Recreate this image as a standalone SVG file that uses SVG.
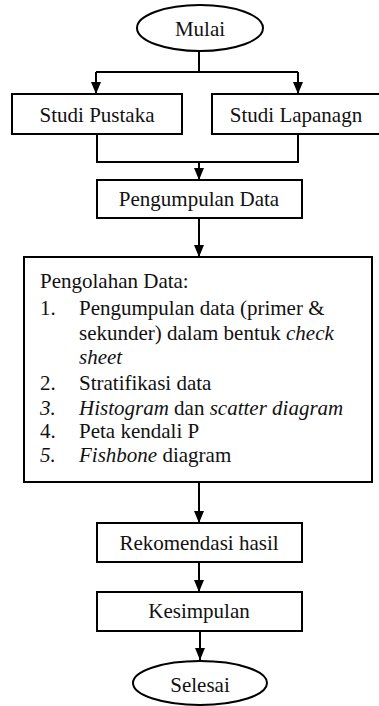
<svg xmlns="http://www.w3.org/2000/svg" width="379" height="706" viewBox="0 0 379 706">
  <defs>
    <marker id="arrow" viewBox="0 0 12 10" refX="12" refY="5" markerWidth="12" markerHeight="10" markerUnits="userSpaceOnUse" orient="auto">
      <path d="M0,0 L12,5 L0,10 Z" fill="#000"/>
    </marker>
  </defs>
  <style>
    .shape { fill: #fff; stroke: #000; stroke-width: 2; }
    .line { fill: none; stroke: #000; stroke-width: 2; }
    .arr { fill: none; stroke: #000; stroke-width: 2; marker-end: url(#arrow); }
    text { font-family: "Liberation Serif", "Times New Roman", serif; font-size: 21px; fill: #111; }
    .c { text-anchor: middle; }
    .i { font-style: italic; }
  </style>
  <rect width="379" height="706" fill="#fff"/>

  <!-- connectors -->
  <g id="connectors">
    <path class="line" d="M199,51 V72 M96,72 H298"/>
    <path class="arr" d="M96,72 V94"/>
    <path class="arr" d="M298,72 V94"/>
    <path class="line" d="M97,135 V162 H298 V135"/>
    <path class="arr" d="M199,162 V180"/>
    <path class="arr" d="M199,218 V257"/>
    <path class="arr" d="M199,482 V523"/>
    <path class="arr" d="M199,562 V592"/>
    <path class="arr" d="M200,631 V660"/>
  </g>

  <g id="mulai">
    <ellipse class="shape" cx="200" cy="28" rx="63" ry="23"/>
    <text class="c" x="200" y="36">Mulai</text>
  </g>

  <g id="studi-pustaka">
    <rect class="shape" x="12" y="94" width="170" height="40"/>
    <text class="c" x="97" y="122">Studi Pustaka</text>
  </g>

  <g id="studi-lapangan">
    <rect class="shape" x="212" y="94" width="168" height="40"/>
    <text class="c" x="296" y="122">Studi Lapanagn</text>
  </g>

  <g id="pengumpulan-data">
    <rect class="shape" x="97" y="180" width="205" height="38"/>
    <text class="c" x="199" y="206">Pengumpulan Data</text>
  </g>

  <g id="pengolahan-data">
    <rect class="shape" x="24" y="257" width="348" height="225"/>
    <text x="40" y="288">Pengolahan Data:</text>
    <text x="40" y="315">1.</text>
    <text x="79" y="315">Pengumpulan data (primer &amp;</text>
    <text x="79" y="340">sekunder) dalam bentuk <tspan class="i">check</tspan></text>
    <text x="79" y="364" class="i">sheet</text>
    <text x="40" y="390">2.</text>
    <text x="79" y="390">Stratifikasi data</text>
    <text x="40" y="415" class="i">3.</text>
    <text x="79" y="415"><tspan class="i">Histogram</tspan> dan <tspan class="i">scatter diagram</tspan></text>
    <text x="40" y="438">4.</text>
    <text x="79" y="438">Peta kendali P</text>
    <text x="40" y="462" class="i">5.</text>
    <text x="79" y="462"><tspan class="i">Fishbone</tspan> diagram</text>
  </g>

  <g id="rekomendasi-hasil">
    <rect class="shape" x="97" y="523" width="205" height="39"/>
    <text class="c" x="199" y="550">Rekomendasi hasil</text>
  </g>

  <g id="kesimpulan">
    <rect class="shape" x="97" y="592" width="205" height="39"/>
    <text class="c" x="199" y="618">Kesimpulan</text>
  </g>

  <g id="selesai">
    <ellipse class="shape" cx="200" cy="683" rx="67" ry="22"/>
    <text class="c" x="200" y="692">Selesai</text>
  </g>
</svg>
